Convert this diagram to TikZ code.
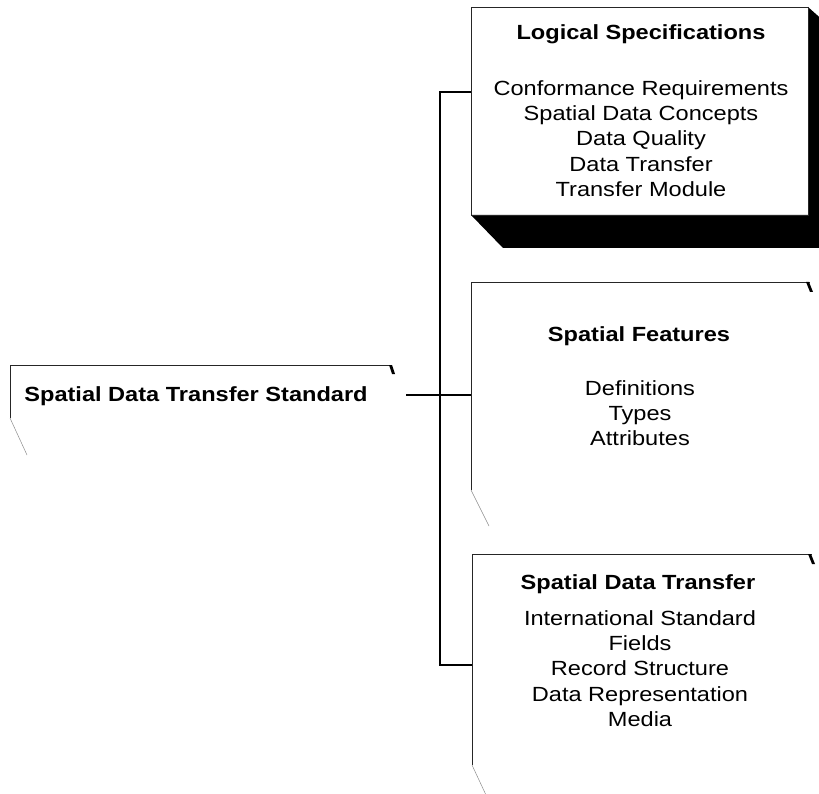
\documentclass[tikz,border=0pt]{standalone}
\usepackage{fontspec}
\setmainfont{Liberation Sans}[FakeStretch=1.15]
\usetikzlibrary{calc}
\begin{document}
\begin{tikzpicture}[x=1pt,y=-1pt,
  edge/.style={draw=black!85,line width=0.7pt},
  faint/.style={draw=black!45,line width=0.5pt},
  bus/.style={draw=black,line width=2.6pt},
  boxshape/.style={inner sep=0pt,outer sep=0pt,rectangle},
  ttl/.style={font=\fontsize{20.5}{25}\selectfont\bfseries,inner sep=0pt,anchor=base},
  body/.style={font=\fontsize{20.5}{25.4}\selectfont,align=center,inner sep=0pt,anchor=north}]
\useasboundingbox (0,0) rectangle (819,794);
\begin{scope}
\clip (0,0) rectangle (819,794);
% box nodes
\node[boxshape,minimum width=337pt,minimum height=208pt] (b1) at (639.5,111) {};
\node[boxshape,minimum width=339pt,minimum height=208pt] (b2) at (640.5,386) {};
\node[boxshape,minimum width=340pt,minimum height=211pt] (b3) at (642,659.5) {};
\node[boxshape,minimum width=382pt,minimum height=53pt] (b0) at (201,391.5) {};
% box 1 with shadow
\fill[black] (b1.south west) -- ++(32,33) -- (845,248) -- (845,40) -- (b1.north east) -- (b1.south east) -- cycle;
\draw[edge] (b1.north west) rectangle (b1.south east);
% box 2
\draw[edge] (b2.south west) -- (b2.north west) -- (b2.north east);
\fill[black] ($(b2.north east)+(-4,0)$) -- ++(3,0) -- ++(4,10) -- ++(-3,0) -- cycle;
\draw[faint] (b2.south west) -- ++(18,36);
% box 3
\draw[edge] (b3.south west) -- (b3.north west) -- (b3.north east);
\fill[black] ($(b3.north east)+(-4,0)$) -- ++(3,0) -- ++(4,10) -- ++(-3,0) -- cycle;
\draw[faint] (b3.south west) -- ++(14,30);
% box 0
\draw[edge] (b0.south west) -- (b0.north west) -- (b0.north east);
\fill[black] ($(b0.north east)+(-3,0)$) -- ++(3,0) -- ++(3,9) -- ++(-3,0) -- cycle;
\draw[faint] (b0.south west) -- ++(17,37);
\end{scope}
% texts
\node[ttl] (t1) at (641,40) {Logical Specifications};
\node[body] (l1) at (641,80) {Conformance Requirements\\Spatial Data Concepts\\Data Quality\\Data Transfer\\Transfer Module};
\node[ttl] (t2) at (639,341) {Spatial Features};
\node[body] (l2) at (640,380) {Definitions\\Types\\Attributes};
\node[ttl] (t3) at (638,589) {Spatial Data Transfer};
\node[body] (l3) at (640,610) {International Standard\\Fields\\Record Structure\\Data Representation\\Media};
\node[ttl] (t0) at (196,401) {Spatial Data Transfer Standard};
% connectors
\coordinate (j) at (440,395);
\coordinate (jt) at (440,92);
\coordinate (jb) at (440,665);
\coordinate (s0) at (406,395);
\draw[bus] (s0) -- (j);
\draw[bus] (b1.west |- jt) -- (jt) -- (jb) -- (b3.west |- jb);
\draw[bus] (j) -- (b2.west |- j);
\end{tikzpicture}
\end{document}
